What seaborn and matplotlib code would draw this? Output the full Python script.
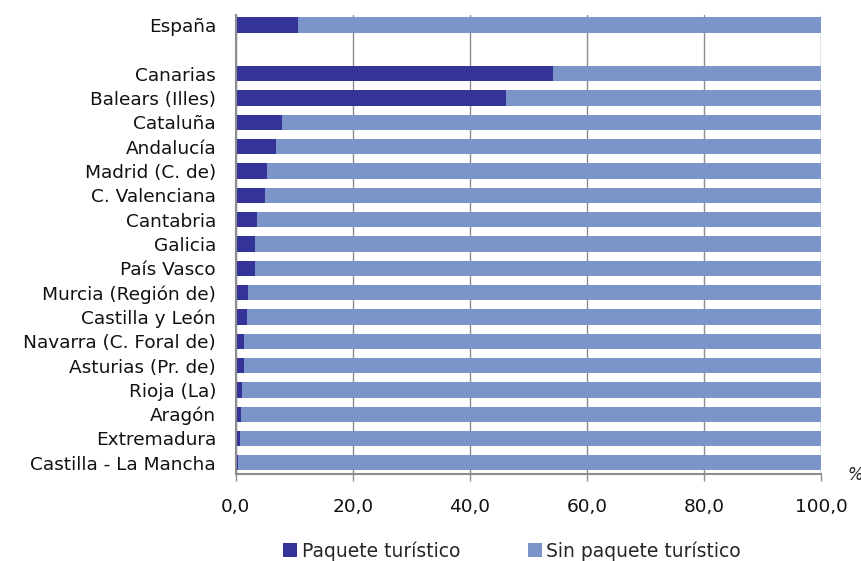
import matplotlib
matplotlib.use("Agg")
import matplotlib.pyplot as plt
import seaborn as sns
import pandas as pd
import numpy as np
from matplotlib.patches import Patch
from matplotlib.ticker import FuncFormatter

regions = ["España", "Canarias", "Balears (Illes)", "Cataluña", "Andalucía",
           "Madrid (C. de)", "C. Valenciana", "Cantabria", "Galicia", "País Vasco",
           "Murcia (Región de)", "Castilla y León", "Navarra (C. Foral de)",
           "Asturias (Pr. de)", "Rioja (La)", "Aragón", "Extremadura",
           "Castilla - La Mancha"]
paquete = [10.6, 54.1, 46.1, 7.9, 6.9, 5.4, 5.1, 3.7, 3.4, 3.4, 2.2, 2.0, 1.5,
           1.4, 1.1, 0.9, 0.7, 0.4]
sin_paquete = [89.4, 45.9, 53.9, 92.1, 93.1, 94.6, 94.9, 96.3, 96.6, 96.6, 97.8,
               98.0, 98.5, 98.6, 98.9, 99.1, 99.3, 99.6]
series_names = ["Paquete turístico", "Sin paquete turístico"]
xticks = [0, 20, 40, 60, 80, 100]

dark = "#333399"
light = "#7b95ca"

df = pd.DataFrame({"region": regions, "paquete": paquete, "sin": sin_paquete})
df["total"] = df["paquete"] + df["sin"]
order = [regions[0], " "] + regions[1:]

sns.set_style("white")
plt.rcParams["font.family"] = ["DejaVu Sans"]

fig = plt.figure(figsize=(8.62, 5.61), dpi=100)
ax = fig.add_axes([235.5 / 862, 1 - 474 / 561, (821.5 - 235.5) / 862, (474 - 15) / 561])

sns.barplot(data=df, y="region", x="total", order=order, color=light,
            width=0.63, orient="h", ax=ax, saturation=1, edgecolor="none")
sns.barplot(data=df, y="region", x="paquete", order=order, color=dark,
            width=0.63, orient="h", ax=ax, saturation=1, edgecolor="none")

ax.set_xlim(0, 100)
ax.set_ylim(len(order) - 0.54, -0.41)
ax.set_xlabel("")
ax.set_ylabel("")
ax.set_xticks(xticks)
ax.xaxis.set_major_formatter(FuncFormatter(lambda v, p: f"{v:.1f}".replace(".", ",")))
ax.grid(axis="x", color="#8c8c8c", linewidth=1)
ax.set_axisbelow(True)
for s in ["top", "right"]:
    ax.spines[s].set_visible(False)
ax.spines["left"].set_color("#8c8c8c")
ax.spines["left"].set_linewidth(1.5)
ax.spines["bottom"].set_color("#8c8c8c")
ax.spines["bottom"].set_linewidth(1.5)
ax.tick_params(axis="x", direction="out", length=5, width=1, color="#8c8c8c",
               pad=12.5, labelsize=13.3, labelcolor="#111111", bottom=True)
ax.tick_params(axis="y", length=0, pad=14, labelsize=13.3, labelcolor="#111111")

fig.text(855 / 862, 1 - 475 / 561, "%", ha="center", va="center", fontsize=12,
         style="italic", color="#222222")

handles = [Patch(facecolor=dark, edgecolor="none"), Patch(facecolor=light, edgecolor="none")]
fig.legend(handles, series_names, loc="center", bbox_to_anchor=(512 / 862, 1 - 551 / 561),
           ncol=2, frameon=False, fontsize=13.5, handlelength=0.75, handleheight=0.75,
           handletextpad=0.25, columnspacing=3.6)

fig.savefig("out.png", dpi=100)
